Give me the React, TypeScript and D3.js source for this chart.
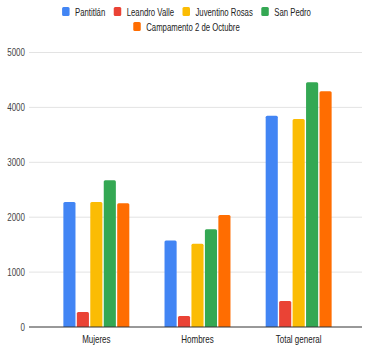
import React, { useEffect, useRef } from "react";
import * as d3 from "d3";

const categories = ["Mujeres", "Hombres", "Total general"];
const series = ["Pantitlán", "Leandro Valle", "Juventino Rosas", "San Pedro", "Campamento 2 de Octubre"];
const colors = ["#4285F4", "#EA4335", "#FBBC04", "#34A853", "#FF6D01"];
const pantitlan = [2275, 1575, 3850];
const leandroValle = [275, 200, 475];
const juventinoRosas = [2275, 1515, 3790];
const sanPedro = [2675, 1780, 4460];
const campamento = [2255, 2040, 4295];
const yTicks = [0, 1000, 2000, 3000, 4000, 5000];

const values = [pantitlan, leandroValle, juventinoRosas, sanPedro, campamento];

const App = () => {
    const chartRef = useRef<HTMLDivElement>(null);

    useEffect(() => {
        const width = 365;
        const height = 349;
        const margin = { top: 52.5, right: 3, bottom: 22, left: 29 };
        const sx = 0.8; // text is narrow in the reference

        d3.select(chartRef.current).select("svg").remove();

        const svg = d3
            .select(chartRef.current)
            .append("svg")
            .attr("width", width)
            .attr("height", height)
            .style("position", "absolute")
            .style("left", 0)
            .style("top", 0)
            .style("background", "#fff")
            .style("font-family", "Arial, 'Liberation Sans', sans-serif");

        const x0 = d3
            .scaleBand()
            .domain(categories)
            .range([31, 364])
            .paddingInner(0.348)
            .paddingOuter(0.32);

        const x1 = d3
            .scaleBand()
            .domain(series)
            .range([0, x0.bandwidth()])
            .paddingInner(0.1);

        const y = d3
            .scaleLinear()
            .domain([0, 5000])
            .range([height - margin.bottom, margin.top]);

        // grid
        svg.append("g")
            .selectAll("line")
            .data(yTicks.slice(1))
            .join("line")
            .attr("x1", margin.left)
            .attr("x2", width - margin.right)
            .attr("y1", (d) => y(d))
            .attr("y2", (d) => y(d))
            .attr("stroke", "#e3e3e3")
            .attr("stroke-width", 1);

        // y labels
        svg.append("g")
            .selectAll("text")
            .data(yTicks)
            .join("text")
            .attr("transform", (d) => `translate(${margin.left - 4},${y(d) + 3.5}) scale(${sx},1)`)
            .attr("text-anchor", "end")
            .attr("font-size", 10)
            .attr("fill", "#444")
            .text((d) => d);

        // bars
        const r = 1.5;
        const barPath = (bx: number, by: number, bw: number, bh: number) =>
            `M${bx},${by + bh}V${by + r}Q${bx},${by} ${bx + r},${by}H${bx + bw - r}Q${bx + bw},${by} ${bx + bw},${by + r}V${by + bh}Z`;

        series.forEach((s, si) => {
            svg.append("g")
                .selectAll("path")
                .data(values[si])
                .join("path")
                .attr("fill", colors[si])
                .attr("d", (d, i) => {
                    const bx = (x0(categories[i]) ?? 0) + (x1(s) ?? 0);
                    return barPath(bx, y(d), x1.bandwidth(), y(0) - y(d));
                });
        });

        // baseline
        svg.append("line")
            .attr("x1", margin.left)
            .attr("x2", width - margin.right)
            .attr("y1", y(0))
            .attr("y2", y(0))
            .attr("stroke", "#333")
            .attr("stroke-width", 1);

        // x labels
        svg.append("g")
            .selectAll("text")
            .data(categories)
            .join("text")
            .attr("transform", (d) => `translate(${(x0(d) ?? 0) + x0.bandwidth() / 2},${y(0) + 16}) scale(${sx},1)`)
            .attr("text-anchor", "middle")
            .attr("font-size", 10)
            .attr("fill", "#222")
            .text((d) => d);

        // legend
        const rows = [series.slice(0, 4), series.slice(4)];
        const rowY = [12, 27];
        const sq = 7.5;
        const gapSq = 5.5;
        const gapItem = 8.5;
        rows.forEach((row, ri) => {
            const g = svg.append("g");
            let cx = 0;
            row.forEach((s) => {
                const idx = series.indexOf(s);
                g.append("rect")
                    .attr("x", cx)
                    .attr("y", rowY[ri] - 5)
                    .attr("width", sq)
                    .attr("height", 9)
                    .attr("rx", 1.5)
                    .attr("fill", colors[idx]);
                const t = g
                    .append("text")
                    .attr("transform", `translate(${cx + sq + gapSq},${rowY[ri] + 3.5}) scale(${sx * 0.97},1)`)
                    .attr("font-size", 10)
                    .attr("fill", "#222")
                    .text(s);
                const tw = (t.node() as SVGTextElement).getComputedTextLength() * sx * 0.97;
                cx += sq + gapSq + tw + gapItem;
            });
            const total = cx - gapItem;
            g.attr("transform", `translate(${(width - total) / 2 + 4},0)`);
        });
    }, []);

    return <div ref={chartRef}></div>;
};

export default App;
